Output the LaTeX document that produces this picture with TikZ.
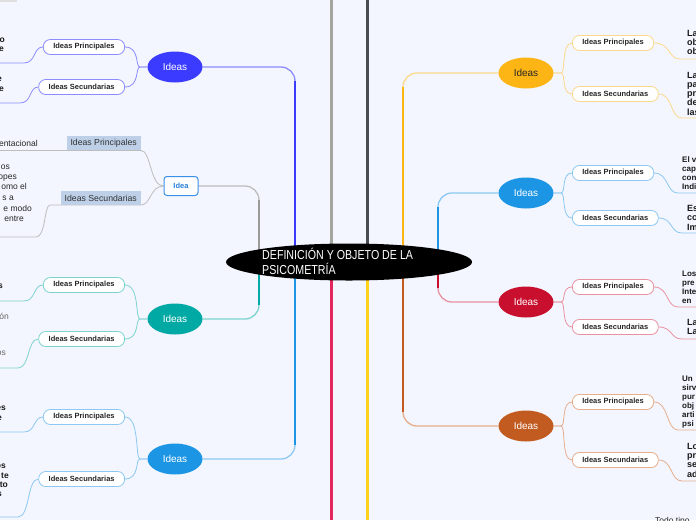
\documentclass[tikz,border=0pt]{standalone}
\usepackage{fontspec}
\setmainfont{Liberation Sans}
\newfontfamily\condfont[FakeStretch=0.82]{Liberation Sans}
\usetikzlibrary{shapes.geometric}
\pgfdeclarelayer{bg}
\pgfsetlayers{bg,main}
\definecolor{bgc}{HTML}{F3F6FE}
\definecolor{vio}{HTML}{3B3BFF}
\definecolor{vioL}{HTML}{8C8CFF}
\definecolor{teal}{HTML}{00A9A4}
\definecolor{tealL}{HTML}{7DD3CF}
\definecolor{sky}{HTML}{1D95E5}
\definecolor{skyL}{HTML}{8CC8F2}
\definecolor{orY}{HTML}{FDB515}
\definecolor{orYL}{HTML}{FCD88C}
\definecolor{crim}{HTML}{C8102E}
\definecolor{crimL}{HTML}{E8929F}
\definecolor{brn}{HTML}{C25B20}
\definecolor{brnL}{HTML}{E6AD8E}
\definecolor{grayI}{HTML}{9B9B9B}
\definecolor{grayIL}{HTML}{BDBDBD}
\definecolor{gg}{HTML}{A2A59D}
\definecolor{dg}{HTML}{484D52}
\definecolor{pr}{HTML}{E3265E}
\definecolor{yl}{HTML}{FFD21A}
\definecolor{lblc}{HTML}{BDD0E8}
\definecolor{ideab}{HTML}{3A8FE8}
\definecolor{ideat}{HTML}{2A7FD8}
\tikzset{
  ideaell/.style={ellipse, fill=#1, minimum width=55pt, minimum height=31pt, inner sep=0pt, text=white, font=\fontsize{10}{12}\selectfont},
  subbox/.style={draw=#1, line width=0.8pt, rounded corners=7pt, fill=white, minimum height=15pt, inner xsep=10pt, inner ysep=0pt, font=\bfseries\fontsize{7.5}{9}\selectfont, text=black!85},
  lbl/.style={fill=lblc, minimum height=14pt, inner xsep=4pt, inner ysep=0pt, font=\fontsize{8.7}{10}\selectfont, text=black!80},
  link/.style={draw=#1, line width=0.8pt},
  branch/.style={draw=#1, line width=1.3pt, rounded corners=14pt},
  trunk/.style={draw=#1, line width=2.6pt},
  edge/.style={draw=#1, line width=3pt},
  ftb/.style={inner sep=0pt, font=\bfseries\fontsize{8.5}{10}\selectfont, text=black!90},
  ftr/.style={inner sep=0pt, font=\fontsize{8.5}{10}\selectfont, text=black!85},
  ftg/.style={inner sep=0pt, font=\fontsize{8.5}{10}\selectfont, text=black!60},
  rta/.style={inner sep=0pt, font=\bfseries\fontsize{8}{10}\selectfont, text=black!90},
  rtb/.style={inner sep=0pt, font=\bfseries\fontsize{9}{10}\selectfont, text=black!90}
}
\begin{document}
\begin{tikzpicture}[x=1pt,y=-1pt]
\useasboundingbox (0,0) rectangle (696,520);
\begin{pgfonlayer}{bg}
\fill[bgc] (0,0) rectangle (696,520);
\fill[gray!25] (0,0) rectangle (17,2);
\end{pgfonlayer}

% centre
\node[ellipse, fill=black, minimum width=246pt, minimum height=37pt, inner sep=0pt] (root) at (349,262) {};
\node[anchor=west, align=left, text=white, inner sep=0pt, font=\condfont\fontsize{13}{15}\selectfont] (roottxt) at (262,261) {DEFINICIÓN Y OBJETO DE LA\\PSICOMETRÍA};

\coordinate (jA) at (259,262);
\coordinate (jB) at (295,262);
\coordinate (jC) at (403,262);
\coordinate (jD) at (438,262);
\coordinate (tE) at (331,0);
\coordinate (tF) at (367,0);
\coordinate (bE) at (331,520);
\coordinate (bF) at (367,520);
\coordinate (mE) at (331,262);
\coordinate (mF) at (367,262);

% left main nodes
\node[ideaell=vio] (L1) at (175,67) {Ideas};
\node[draw=ideab, line width=1pt, fill=white, rounded corners=3pt, minimum width=34pt, minimum height=19pt, inner sep=0pt, text=ideat, font=\bfseries\fontsize{7.5}{9}\selectfont] (idea) at (181,186) {Idea};
\node[ideaell=teal] (L3) at (175,319) {Ideas};
\node[ideaell=sky] (L4) at (175,459) {Ideas};
% right main nodes
\node[ideaell=orY, text=black!85] (R1) at (526,73) {Ideas};
\node[ideaell=sky] (R2) at (526,193) {Ideas};
\node[ideaell=crim] (R3) at (526,302) {Ideas};
\node[ideaell=brn] (R4) at (526,426) {Ideas};

% left subs
\node[subbox=vioL, anchor=east] (L1p) at (125,47) {Ideas Principales};
\node[subbox=vioL, anchor=east] (L1s) at (125,87) {Ideas Secundarias};
\node[lbl, anchor=east] (Ip) at (141,143) {Ideas Principales};
\node[lbl, anchor=east] (Is) at (141,198) {Ideas Secundarias};
\node[subbox=tealL, anchor=east] (L3p) at (125,285) {Ideas Principales};
\node[subbox=tealL, anchor=east] (L3s) at (125,339) {Ideas Secundarias};
\node[subbox=skyL, anchor=east] (L4p) at (125,417) {Ideas Principales};
\node[subbox=skyL, anchor=east] (L4s) at (125,479) {Ideas Secundarias};
% right subs
\node[subbox=orYL, anchor=west] (R1p) at (572,43) {Ideas Principales};
\node[subbox=orYL, anchor=west] (R1s) at (572,94) {Ideas Secundarias};
\node[subbox=skyL, anchor=west] (R2p) at (572,173) {Ideas Principales};
\node[subbox=skyL, anchor=west] (R2s) at (572,218) {Ideas Secundarias};
\node[subbox=crimL, anchor=west] (R3p) at (572,287) {Ideas Principales};
\node[subbox=crimL, anchor=west] (R3s) at (572,327) {Ideas Secundarias};
\node[subbox=brnL, anchor=west] (R4p) at (572,402) {Ideas Principales};
\node[subbox=brnL, anchor=west] (R4s) at (572,460) {Ideas Secundarias};

% underline end coordinates
\coordinate (uL1p) at (0,63);
\coordinate (uL1s) at (0,103);
\coordinate (uIp) at (0,150.5);
\coordinate (uIs) at (0,237);
\coordinate (uL3p) at (0,301);
\coordinate (uL3s) at (0,368);
\coordinate (uL4p) at (0,432);
\coordinate (uL4s) at (0,517);
\coordinate (uR1p) at (696,59);
\coordinate (uR1s) at (696,118);
\coordinate (uR2p) at (696,193);
\coordinate (uR2s) at (696,233);
\coordinate (uR3p) at (696,307);
\coordinate (uR3s) at (696,339);
\coordinate (uR4p) at (696,430);
\coordinate (uR4s) at (696,481);

% text fragments, left edge
\node[ftb, anchor=base east] (fa1) at (5,42) {o};
\node[ftb, anchor=base east] (fa2) at (4,51) {e};
\node[ftb, anchor=base east] (fa3) at (2,81) {e};
\node[ftb, anchor=base east] (fa4) at (4,91) {e};
\node[ftr, anchor=base east] (fb1) at (38,146) {entacional};
\node[ftr, anchor=base east] (fb2) at (10,169) {os};
\node[ftr, anchor=base east] (fb3) at (17,179) {opes};
\node[ftr, anchor=base east] (fb4) at (27,189) {omo el};
\node[ftr, anchor=base east] (fb5) at (14,200) {s a};
\node[ftr, anchor=base east] (fb6) at (32,211) {e modo};
\node[ftr, anchor=base east] (fb7) at (24,221) {entre};
\node[ftb, anchor=base east] (fc1) at (3,288) {s};
\node[ftg, anchor=base east] (fc2) at (9,319) {ón};
\node[ftg, anchor=base east] (fc3) at (6,355) {os};
\node[ftb, anchor=base east] (fd1) at (6,410) {es};
\node[ftb, anchor=base east] (fd2) at (2,420) {e};
\node[ftb, anchor=base east] (fd3) at (6,468) {os};
\node[ftb, anchor=base east] (fd4) at (9,478) {te};
\node[ftb, anchor=base east] (fd5) at (8,487) {to};
\node[ftb, anchor=base east] (fd6) at (2,496) {s};

% text fragments, right edge
\foreach \t [count=\i] in {La,ob,ob} \node[rtb, anchor=base west] (ra\i) at (687,27+9*\i) {\t};
\foreach \t [count=\i] in {La,pa,pr,de,las} \node[rtb, anchor=base west] (rb\i) at (687,69+9.2*\i) {\t};
\foreach \t [count=\i] in {El v,cap,con,Indi} \node[rta, anchor=base west] (rc\i) at (682,153+9*\i) {\t};
\foreach \t [count=\i] in {Es,co,Im} \node[rtb, anchor=base west] (rd\i) at (687,201.5+9.5*\i) {\t};
\foreach \t [count=\i] in {Los,pre,Inte,en} \node[rta, anchor=base west] (re\i) at (682,267+9*\i) {\t};
\foreach \t [count=\i] in {La,La} \node[rtb, anchor=base west] (rf\i) at (687,316+9*\i) {\t};
\foreach \t [count=\i] in {Un,sirv,pur,obj,arti,psi} \node[rta, anchor=base west] (rg\i) at (682,372+9*\i) {\t};
\foreach \t [count=\i] in {Lo,pr,se,ad} \node[rtb, anchor=base west] (rh\i) at (687,440+9.3*\i) {\t};
\node[ftr, anchor=base west] (todo) at (655,523) {Todo tipo};

\begin{pgfonlayer}{bg}
% edge lines
\draw[edge=gg] (tE) -- (mE);
\draw[edge=dg] (tF) -- (mF);
\draw[edge=pr] (mE) -- (bE);
\draw[edge=yl] (mF) -- (bF);
% branches
\draw[branch=vioL] (L1.east) -| (jB);
\draw[trunk=vio] ([yshift=-14pt]jB |- L1.east) -- (jB);
\draw[branch=grayIL] (idea.east) -| (jA);
\draw[trunk=grayI] ([yshift=-14pt]jA |- idea.east) -- (jA);
\draw[branch=tealL] (L3.east) -| (jA);
\draw[trunk=teal] ([yshift=14pt]jA |- L3.east) -- (jA);
\draw[branch=skyL] (L4.east) -| (jB);
\draw[trunk=sky] ([yshift=14pt]jB |- L4.east) -- (jB);
\draw[branch=orYL] (R1.west) -| (jC);
\draw[trunk=orY] ([yshift=-14pt]jC |- R1.west) -- (jC);
\draw[branch=skyL] (R2.west) -| (jD);
\draw[trunk=sky] ([yshift=-14pt]jD |- R2.west) -- (jD);
\draw[branch=crimL] (R3.west) -| (jD);
\draw[trunk=crim] ([yshift=14pt]jD |- R3.west) -- (jD);
\draw[branch=brnL] (R4.west) -| (jC);
\draw[trunk=brn] ([yshift=14pt]jC |- R4.west) -- (jC);

% left links
\draw[link=vioL] (L1.west) -- (140,67) .. controls (135,67) and (140,47) .. (L1p.east);
\draw[link=vioL] (L1.west) -- (140,67) .. controls (135,67) and (140,87) .. (L1s.east);
\draw[link=vioL] (L1p.west) .. controls (33,47) and (36,63) .. (24,63) -- (uL1p);
\draw[link=vioL] (L1s.west) .. controls (29,87) and (32,103) .. (20,103) -- (uL1s);

\draw[link=grayIL] (idea.west) .. controls (150,186) and (151,150.5) .. (141,150.5) -- (uIp);
\draw[link=grayIL] (idea.west) .. controls (150,186) and (151,205) .. (141,205) -- (50,205) .. controls (44,205) and (46,237) .. (36,237) -- (uIs);

\draw[link=tealL] (L3.west) -- (140,319) .. controls (135,319) and (140,285) .. (L3p.east);
\draw[link=tealL] (L3.west) -- (140,319) .. controls (135,319) and (140,339) .. (L3s.east);
\draw[link=tealL] (L3p.west) .. controls (33,285) and (36,301) .. (24,301) -- (uL3p);
\draw[link=tealL] (L3s.west) .. controls (27,339) and (30,368) .. (18,368) -- (uL3s);

\draw[link=skyL] (L4.west) -- (140,459) .. controls (135,459) and (140,417) .. (L4p.east);
\draw[link=skyL] (L4.west) -- (140,459) .. controls (135,459) and (140,479) .. (L4s.east);
\draw[link=skyL] (L4p.west) .. controls (33,417) and (36,432) .. (24,432) -- (uL4p);
\draw[link=skyL] (L4s.west) .. controls (27,479) and (30,517) .. (18,517) -- (uL4s);

% right links
\draw[link=orYL] (R1.east) -- (561,73) .. controls (566,73) and (561,43) .. (R1p.west);
\draw[link=orYL] (R1.east) -- (561,73) .. controls (566,73) and (561,94) .. (R1s.west);
\draw[link=orYL] (R1p.east) .. controls (671,43) and (668,59) .. (680,59) -- (uR1p);
\draw[link=orYL] (R1s.east) .. controls (673,94) and (670,118) .. (682,118) -- (uR1s);

\draw[link=skyL] (R2.east) -- (561,193) .. controls (566,193) and (561,173) .. (R2p.west);
\draw[link=skyL] (R2.east) -- (561,193) .. controls (566,193) and (561,218) .. (R2s.west);
\draw[link=skyL] (R2p.east) .. controls (669,173) and (666,193) .. (678,193) -- (uR2p);
\draw[link=skyL] (R2s.east) .. controls (673,218) and (670,233) .. (682,233) -- (uR2s);

\draw[link=crimL] (R3.east) -- (561,302) .. controls (566,302) and (561,287) .. (R3p.west);
\draw[link=crimL] (R3.east) -- (561,302) .. controls (566,302) and (561,327) .. (R3s.west);
\draw[link=crimL] (R3p.east) .. controls (669,287) and (666,307) .. (678,307) -- (uR3p);
\draw[link=crimL] (R3s.east) .. controls (673,327) and (670,339) .. (682,339) -- (uR3s);

\draw[link=brnL] (R4.east) -- (561,426) .. controls (566,426) and (561,402) .. (R4p.west);
\draw[link=brnL] (R4.east) -- (561,426) .. controls (566,426) and (561,460) .. (R4s.west);
\draw[link=brnL] (R4p.east) .. controls (669,402) and (666,430) .. (678,430) -- (uR4p);
\draw[link=brnL] (R4s.east) .. controls (673,460) and (670,481) .. (682,481) -- (uR4s);
\end{pgfonlayer}
\end{tikzpicture}
\end{document}
